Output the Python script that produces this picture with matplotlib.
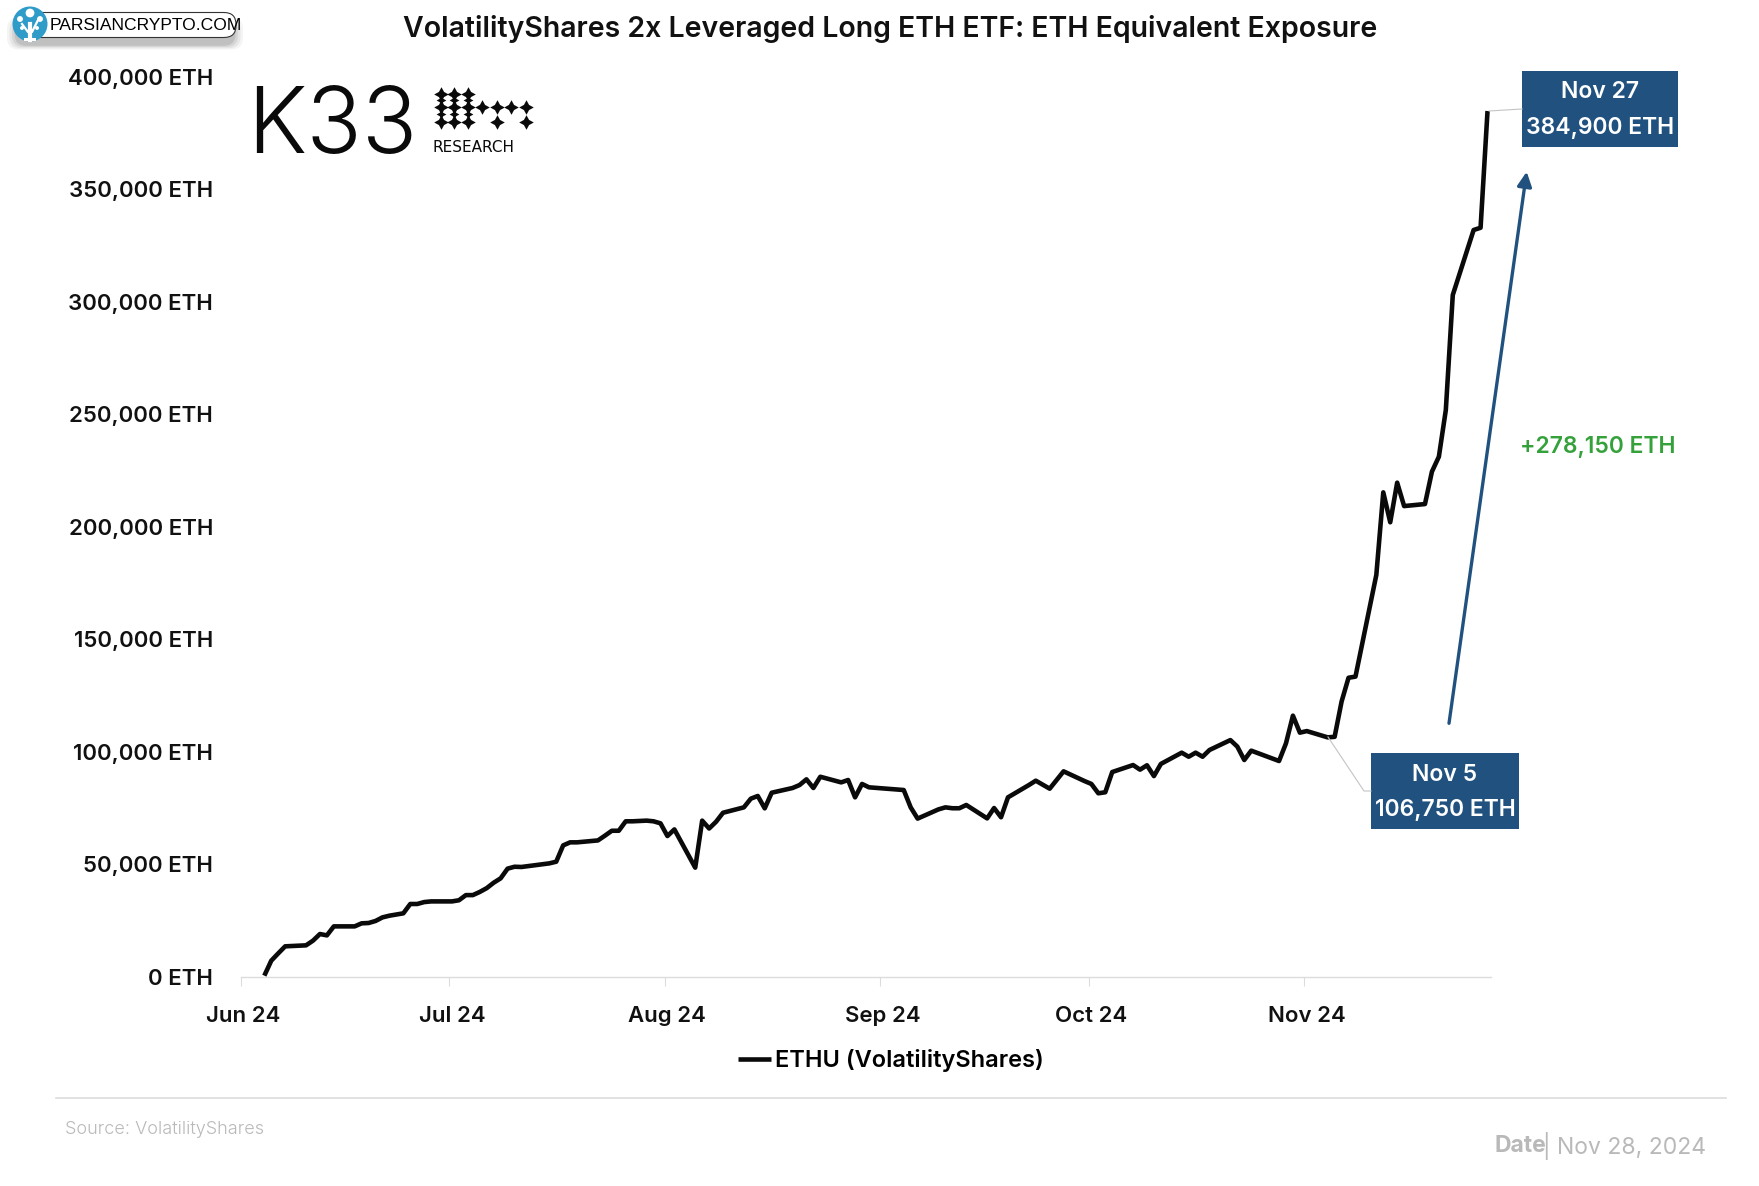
import matplotlib
matplotlib.use('Agg')
import matplotlib.pyplot as plt
from matplotlib.patches import Rectangle, FancyBboxPatch, Circle
from matplotlib.lines import Line2D

W, H = 1759, 1186

# days since 1 Jun 2024 (trading days only)
days = [3, 4, 5, 6, 9, 10, 11, 12, 13, 16, 17, 18, 19, 20, 21, 23, 24, 25, 26, 27,
        30, 31, 32, 33, 34, 35, 36, 37, 38, 39, 40, 41, 44, 45, 46, 47, 48, 51, 52, 53,
        54, 55, 56, 58, 59, 60, 61, 62, 65, 66, 67, 68, 69, 70, 72, 73, 74, 75, 76, 79,
        80, 81, 82, 83, 86, 87, 88, 89, 90, 95, 96, 97, 100, 101, 102, 103, 104, 107, 108, 109,
        110, 111, 112, 113, 114, 116, 118, 121, 122, 123, 124, 125, 128, 129, 130, 131, 132, 135, 136, 137,
        138, 139, 142, 143, 144, 145, 149, 150, 151, 152, 153, 156, 157, 158, 159, 160, 163, 164, 165, 166,
        167, 170, 171, 172, 173, 174, 177, 178, 179]
eth = [600, 7260, 10500, 13630, 14070, 16150, 19100, 18500, 22500, 22500, 23850, 24000, 24900, 26500, 27250, 28300, 32450, 32450, 33300, 33600,
       33600, 34100, 36400, 36400, 37800, 39500, 41900, 43850, 48150, 49000, 48900, 49300, 50500, 51250, 58500, 59850, 59850, 60700, 62800, 65000,
       65000, 69200, 69200, 69500, 69200, 68300, 62650, 65600, 48600, 69500, 66000, 69000, 73000, 73800, 75400, 79260, 80450, 74960, 81900, 84000,
       85300, 87850, 84000, 89000, 86500, 87550, 79850, 85800, 84300, 83100, 75400, 70400, 74500, 75400, 75000, 75000, 76450, 70500, 75100, 71000,
       79850, 81650, 83400, 85300, 87250, 83700, 91400, 87100, 85800, 81650, 82100, 91100, 94200, 92150, 94100, 89300, 94700, 99700, 97900, 99700,
       97900, 100900, 105300, 102400, 96450, 100600, 96000, 103850, 116150, 108600, 109300, 106500, 106750, 122400, 133000, 133500, 178700, 215400, 202100, 219700,
       209300, 210200, 224600, 231250, 252000, 303100, 332000, 333000, 384900]

month_days = [0, 30, 61, 92, 122, 153]
month_labels = ['Jun 24', 'Jul 24', 'Aug 24', 'Sep 24', 'Oct 24', 'Nov 24']
y_ticks = [0, 50000, 100000, 150000, 200000, 250000, 300000, 350000, 400000]

BLUE = '#21527f'
GREEN = '#35a13b'
GREY = '#b9b9b9'
RULE = '#dcdcdc'
FONT = 'Inter'

plt.rcParams['font.family'] = FONT

fig = plt.figure(figsize=(W / 100, H / 100), dpi=100, facecolor='white')


def fx(x):
    return x / W


def fy(y):
    return 1 - y / H


ax = fig.add_axes([fx(240.7), fy(977), (1491 - 240.7) / W, (977 - 77) / H])
ax.plot(days, eth, color='#0a0a0a', lw=3.3, solid_joinstyle='round',
        solid_capstyle='butt', label='ETHU (VolatilityShares)', zorder=3)
ax.set_xlim(-0.4, 179.5)
ax.set_ylim(0, 400000)

for s in ['top', 'right', 'left']:
    ax.spines[s].set_visible(False)
ax.spines['bottom'].set_color(RULE)
ax.spines['bottom'].set_linewidth(1)

# ticks sit slightly left of their labels in the original
ax.set_xticks([d - 0.4 for d in month_days])
ax.set_xticklabels([])
ax.set_xticks(month_days, minor=True)
ax.set_xticklabels(month_labels, minor=True, fontsize=16, fontweight=600, color='#111111')
ax.tick_params(axis='x', which='major', length=6.5, width=0.8, color=RULE)
ax.tick_params(axis='x', which='minor', length=0, pad=21)
ax.set_yticks(y_ticks)
ax.set_yticklabels([f'{v:,} ETH' for v in y_ticks], fontsize=16, fontweight=600, color='#111111')
ax.tick_params(axis='y', length=0, pad=20)

ax.legend(loc='center', bbox_to_anchor=(fx(891), fy(1061)), bbox_transform=fig.transFigure,
          frameon=False, fontsize=17, handlelength=1.4, handletextpad=0.2, borderpad=0,
          prop={'size': 17, 'weight': 600, 'family': FONT})

fig.text(fx(890), fy(29), 'VolatilityShares 2x Leveraged Long ETH ETF: ETH Equivalent Exposure',
         ha='center', va='center', fontsize=20.5, fontweight=600, color='#111111')

# pixel overlay for callouts, logos and footer
ov = fig.add_axes([0, 0, 1, 1], zorder=5)
ov.set_xlim(0, W)
ov.set_ylim(H, 0)
ov.axis('off')
ov.patch.set_alpha(0)

# callout boxes
ov.add_patch(Rectangle((1522, 71), 156, 76, color=BLUE, lw=0))
ov.text(1600, 92, 'Nov 27', color='white', ha='center', va='center', fontsize=16.5, fontweight=600)
ov.text(1600, 128, '384,900 ETH', color='white', ha='center', va='center', fontsize=16.5, fontweight=600)
ov.add_patch(Rectangle((1371, 753), 148, 76, color=BLUE, lw=0))
ov.text(1445, 775, 'Nov 5', color='white', ha='center', va='center', fontsize=16.5, fontweight=600)
ov.text(1445, 810, '106,750 ETH', color='white', ha='center', va='center', fontsize=16.5, fontweight=600)

# leaders
ov.plot([1489, 1522], [111, 109], color='#c4c4c4', lw=0.8)
ov.plot([1328, 1364, 1371], [737, 791, 791], color='#c4c4c4', lw=0.8)

# growth arrow
ov.annotate('', xy=(1526.7, 171.7), xytext=(1449, 723.3),
            arrowprops=dict(arrowstyle='-|>,head_length=0.86,head_width=0.43', mutation_scale=10,
                            color=BLUE, lw=2.4, shrinkA=0, shrinkB=0))
ov.text(1598, 447, '+278,150 ETH', color=GREEN, ha='center', va='center', fontsize=16.5, fontweight=600)

# K33 logo
ov.text(247, 153, 'K33', fontsize=66, fontweight=300, color='#0a0a0a', ha='left', va='baseline')
star_x = [441, 454, 468, 441, 454, 468, 482, 497, 511, 526, 441, 454, 468, 497, 526]
star_y = [94, 94, 94, 107, 107, 107, 107, 107, 107, 107, 122, 122, 122, 122, 122]
ov.scatter(star_x, star_y, marker=(4, 1, 0), s=110, color='#0a0a0a', lw=0)
ov.scatter(star_x[:3] + star_x[:3], [100] * 3 + [114] * 3, marker=(4, 1, 0), s=50, color='#0a0a0a', lw=0)
ov.text(433, 147, 'RESEARCH', fontsize=11, family='DejaVu Sans', color='#0a0a0a', ha='left', va='center')

# watermark badge
for i, a in enumerate([0.06, 0.08, 0.1, 0.14]):
    g = 9 - i * 2.5
    ov.add_patch(FancyBboxPatch((16 - g, 22 - g / 2), 218 + 2 * g, 23 + g,
                                boxstyle='round,pad=0,rounding_size=12', fc='#444444', ec='none', alpha=a))
ov.add_patch(FancyBboxPatch((18, 12.5), 218, 25, boxstyle='round,pad=0,rounding_size=12',
                            fc='white', ec='#333333', lw=0.8))
ov.add_patch(Circle((30, 24), 17.5, fc='#2e9bc9', ec='none'))
ov.plot([30, 30], [24, 40], color='white', lw=3)
ov.plot([22, 28, 32, 38], [24, 32, 32, 20], color='white', lw=1.6)
ov.scatter([30, 20, 40, 22, 37], [13, 19, 19, 28, 28], s=[40, 18, 18, 8, 8], color='white', lw=0)
ov.add_patch(Rectangle((24, 38), 12, 3, color='white', lw=0))
ov.text(50, 25.5, 'PARSIANCRYPTO.COM', family='Liberation Sans', fontsize=12.6, color='black', ha='left', va='center')

# footer
ov.plot([56, 1726], [1098, 1098], color=RULE, lw=1.2)
ov.text(65, 1129, 'Source: VolatilityShares', color=GREY, fontsize=13, fontweight=300, ha='left', va='center')
date_txt = ov.text(1706, 1146, '| Nov 28, 2024', color=GREY, fontsize=16.5, fontweight=400, ha='right', va='center')
ov.text(1546, 1146, 'Date', color=GREY, fontsize=16.5, fontweight=700, ha='right', va='center')

fig.savefig('out.png', dpi=100)
